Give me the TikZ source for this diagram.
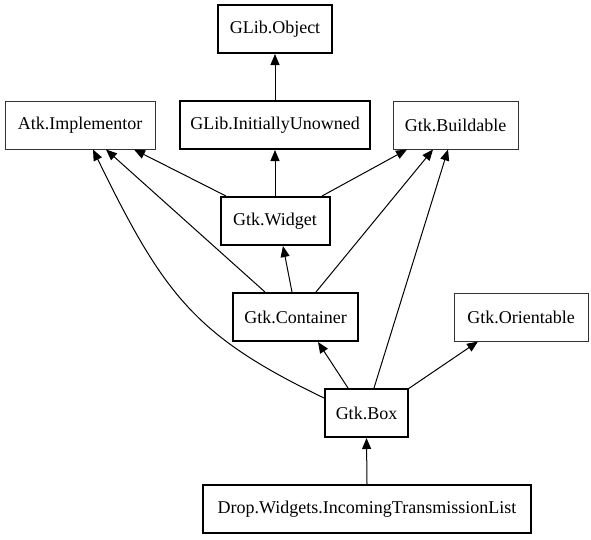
\documentclass[tikz,border=0pt]{standalone}
\usepackage{fontspec}
\setmainfont{Liberation Serif}
\usetikzlibrary{arrows.meta,calc}
\begin{document}
\begin{tikzpicture}[x=1pt,y=-1pt,
  cls/.style={draw=black,line width=2pt,rectangle,minimum height=48pt,inner sep=0pt,
    font=\fontsize{18}{20}\selectfont},
  iface/.style={cls,line width=1pt,draw=black!80},
  edge/.style={line width=1pt,-{Triangle[length=11pt,width=9pt]}}]
\useasboundingbox (0,0) rectangle (591,539);
\node[cls,minimum width=114pt] (object) at (275,29) {GLib.Object};
\node[iface,minimum width=150pt] (atk) at (80,125) {Atk.Implementor};
\node[cls,minimum width=190pt] (unowned) at (275,125) {GLib.InitiallyUnowned};
\node[iface,minimum width=125pt] (buildable) at (455.5,125) {Gtk.Buildable};
\node[cls,minimum width=109pt] (widget) at (275,221) {Gtk.Widget};
\node[cls,minimum width=125pt] (container) at (295.5,317) {Gtk.Container};
\node[iface,minimum width=134pt] (orientable) at (521,317) {Gtk.Orientable};
\node[cls,minimum width=83pt] (box) at (366.5,413) {Gtk.Box};
\node[cls,minimum width=328pt] (drop) at (367,509) {Drop.Widgets.IncomingTransmissionList};

\draw[edge] (unowned.north) -- (object.south);
\draw[edge] (widget.north) -- (unowned.south);
\draw[edge] ($(widget.north)+(-49,0)$) -- ($(atk.south)+(54,0)$);
\draw[edge] ($(widget.north)+(47,0)$) -- ($(buildable.south)+(-48.5,0)$);
\draw[edge] ($(container.north)+(-3.5,0)$) -- ($(widget.south)+(8,0)$);
\draw[edge] ($(container.north)+(-30.5,0)$) -- ($(atk.south)+(26,0)$);
\draw[edge] ($(container.north)+(20.5,0)$) -- ($(buildable.south)+(-22.5,0)$);
\draw[edge] ($(box.north)+(-18.5,0)$) -- ($(container.south)+(22.5,0)$);
\draw[edge] ($(box.north)+(7.5,0)$) -- ($(buildable.south)+(-7.5,0)$);
\draw[edge] ($(box.north east)+(-1,1)$) -- ($(orientable.south)+(-43,0)$);
\draw[edge] ($(box.west)+(0,-15)$) .. controls (195,336) and (164,295) .. ($(atk.south)+(13,0)$);
\draw[edge] (drop.north) -- (box.south);
\end{tikzpicture}
\end{document}
